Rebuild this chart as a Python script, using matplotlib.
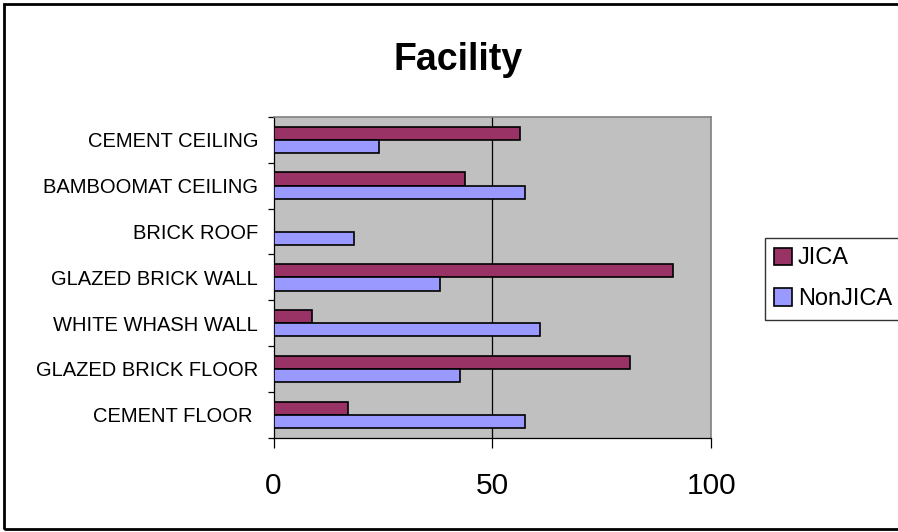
#!/usr/bin/env python
# -*- coding: utf-8 -*-
"""Facility: JICA vs NonJICA, barras horizontales agrupadas."""

import matplotlib
matplotlib.use("Agg")
import matplotlib.pyplot as plt
import numpy as np
from matplotlib.patches import Rectangle

# ---------------------------------------------------------------------------
# Datos (de abajo hacia arriba)
# ---------------------------------------------------------------------------
categories = [
    "CEMENT FLOOR ",
    "GLAZED BRICK FLOOR",
    "WHITE WHASH WALL",
    "GLAZED BRICK WALL",
    "BRICK ROOF",
    "BAMBOOMAT CEILING",
    "CEMENT CEILING",
]
jica = [16.9, 81.3, 8.7, 91.3, 0.0, 43.8, 56.2]
non_jica = [57.5, 42.5, 60.8, 37.9, 18.3, 57.5, 24.2]
series_names = ["JICA", "NonJICA"]
x_ticks = [0, 50, 100]

C_JICA = "#993366"
C_NON = "#9999FF"
W, H, DPI = 898, 532, 100

plt.rcParams["font.family"] = ["Liberation Sans", "DejaVu Sans"]

fig = plt.figure(figsize=(W / DPI, H / DPI), dpi=DPI)
ax = fig.add_axes([273.5 / W, 1 - 437.7 / H, (711.5 - 273.5) / W, (437.7 - 117) / H])

y = np.arange(len(categories))
bh = 0.29
ax.barh(y + bh / 2, jica, bh, color=C_JICA, edgecolor="black", linewidth=1.2,
        label=series_names[0], zorder=3)
ax.barh(y - bh / 2, non_jica, bh, color=C_NON, edgecolor="black", linewidth=1.2,
        label=series_names[1], zorder=3)

ax.set_facecolor("#C0C0C0")
ax.set_xlim(0, 100)
ax.set_ylim(-0.5, len(categories) - 0.5)
ax.axvline(50, color="black", linewidth=0.9, zorder=1)

ax.set_xticks(x_ticks)
ax.set_xticklabels([str(v) for v in x_ticks])
ax.tick_params(axis="x", direction="out", length=7, width=0.9, pad=18,
               labelsize=21.5)

ax.set_yticks(y)
ax.set_yticklabels(categories)
ax.tick_params(axis="y", which="major", length=0, pad=11, labelsize=14.5)
ax.set_yticks(np.arange(-0.5, len(categories), 1.0), minor=True)
ax.tick_params(axis="y", which="minor", direction="out", length=4.5, width=0.9)

for side in ("left", "bottom"):
    ax.spines[side].set_color("black")
    ax.spines[side].set_linewidth(0.9)
for side in ("top", "right"):
    ax.spines[side].set_color("#808080")
    ax.spines[side].set_linewidth(1.2)

fig.text(458.5 / W, 1 - 70 / H, "Facility", ha="center", va="baseline",
         fontsize=27, fontweight="bold")

leg = ax.legend(loc="upper left", bbox_to_anchor=(765 / W, 1 - 238 / H),
                bbox_transform=fig.transFigure, borderaxespad=0,
                fontsize=17, frameon=True, fancybox=False, edgecolor="black",
                handlelength=0.75, handleheight=0.75, handletextpad=0.25,
                labelspacing=0.8, borderpad=0.4)
leg.get_frame().set_linewidth(1.0)

# marco exterior del gráfico (el borde derecho queda fuera de la imagen)
fig.patches.append(Rectangle((4 / W, 3 / H), 1.1, 1 - 7 / H,
                             transform=fig.transFigure, fill=False,
                             edgecolor="black", linewidth=2.0))

fig.savefig("out.png", dpi=DPI)
